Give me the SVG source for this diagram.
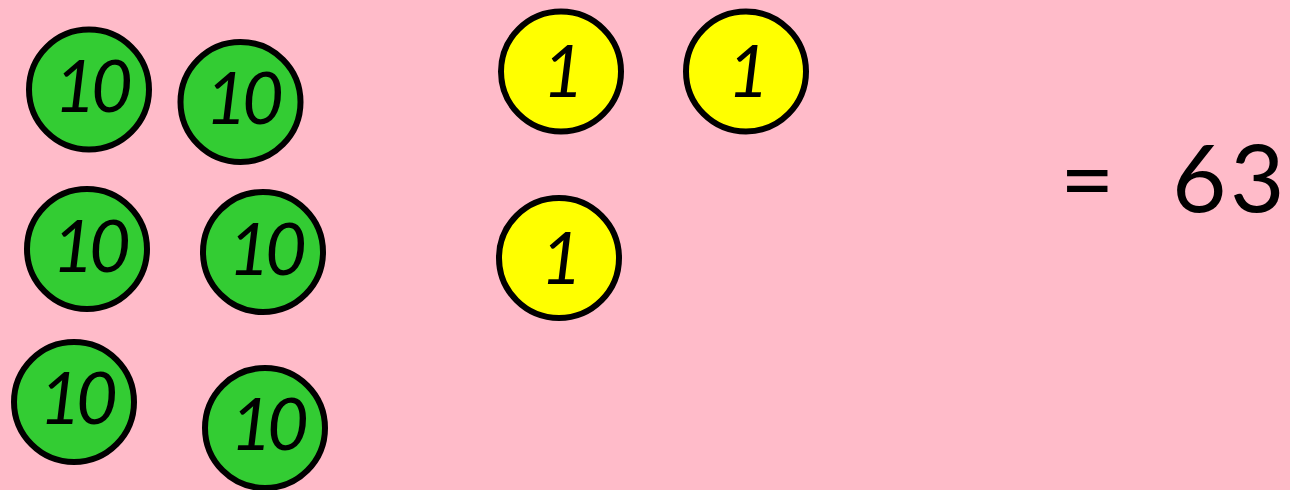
<svg xmlns="http://www.w3.org/2000/svg" width="1290" height="490" viewBox="0 0 1290 490">
<style>
.ten circle{fill:#33cc33;stroke:#000;stroke-width:6}
.one circle{fill:#ffff00;stroke:#000;stroke-width:6}
.lbl{font-family:"Lato","Liberation Sans",sans-serif;font-style:italic;font-weight:400;font-size:72px;fill:#000;text-anchor:middle;letter-spacing:-5px}
.eq{font-family:"Lato","Liberation Sans",sans-serif;font-weight:400;font-size:94px;fill:#000}
</style>
<rect width="1290" height="490" fill="#ffbbc9"/>
<g id="ten1" class="ten"><circle cx="89" cy="89.5" r="60"/><text class="lbl" x="91" y="112">10</text></g>
<g id="ten2" class="ten"><circle cx="240.5" cy="102" r="60"/><text class="lbl" x="242" y="124">10</text></g>
<g id="ten3" class="ten"><circle cx="87" cy="249" r="60"/><text class="lbl" x="89" y="272">10</text></g>
<g id="ten4" class="ten"><circle cx="263" cy="252" r="60"/><text class="lbl" x="265" y="275">10</text></g>
<g id="ten5" class="ten"><circle cx="74" cy="402" r="60"/><text class="lbl" x="76" y="424">10</text></g>
<g id="ten6" class="ten"><circle cx="265" cy="428" r="60"/><text class="lbl" x="267" y="450">10</text></g>
<g id="one1" class="one"><circle cx="561" cy="71.5" r="60"/><text class="lbl" x="561" y="97" letter-spacing="0">1</text></g>
<g id="one2" class="one"><circle cx="746" cy="71.5" r="60"/><text class="lbl" x="746" y="97" letter-spacing="0">1</text></g>
<g id="one3" class="one"><circle cx="559" cy="258" r="60"/><text class="lbl" x="559" y="284" letter-spacing="0">1</text></g>
<g id="equation"><text class="eq" y="212"><tspan x="1060">=</tspan><tspan x="1172">6</tspan><tspan x="1230">3</tspan></text></g>
<g id="connectors"/>
</svg>
